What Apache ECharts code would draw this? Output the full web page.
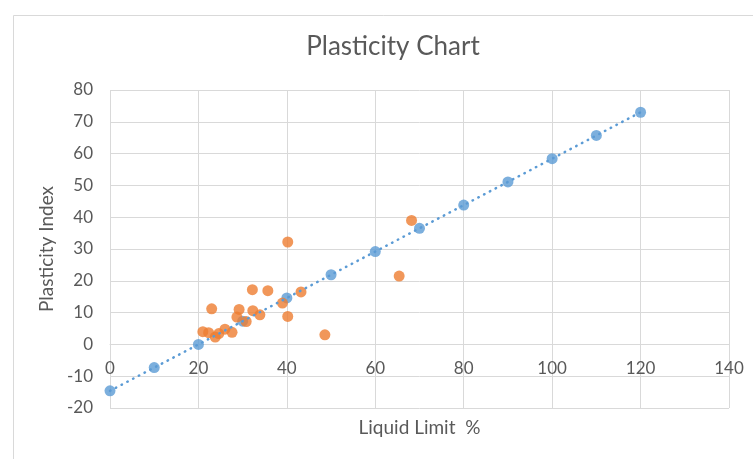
<!DOCTYPE html>
<html>
<head>
<meta charset="utf-8">
<script src="https://cdn.jsdelivr.net/npm/echarts@6/dist/echarts.min.js"></script>
<style>
html,body{margin:0;padding:0;background:#fff;}
#chart{width:753px;height:459px;}
</style>
</head>
<body>
<div id="chart"></div>
<script>
// A-line reference points (Liquid Limit, Plasticity Index)
const aLineLL = [0, 10, 20, 30, 40, 50, 60, 70, 80, 90, 100, 110, 120];
const aLinePI = [-14.6, -7.3, 0, 7.3, 14.6, 21.9, 29.2, 36.5, 43.8, 51.1, 58.4, 65.7, 73];
// Soil samples
const sampleLL = [21, 22.3, 23.8, 24.6, 26, 27.6, 23, 29.2, 32.3, 28.7, 33.9, 30.8, 32.2, 35.7, 39, 40.2, 40.2, 43.2, 48.6, 65.4, 68.2];
const samplePI = [4, 3.7, 2.3, 3.4, 4.8, 3.8, 11.2, 11, 10.6, 8.6, 9.3, 7.2, 17.2, 16.9, 13, 32.2, 8.8, 16.5, 3, 21.5, 39];
const xTicks = {min: 0, max: 140, interval: 20};
const yTicks = {min: -20, max: 80, interval: 10};
const titleText = 'Plasticity Chart';
const xName = 'Liquid Limit  %';
const yName = 'Plasticity Index';

const aLine = aLineLL.map((x, i) => [x, aLinePI[i]]);
const samples = sampleLL.map((x, i) => [x, samplePI[i]]);

const font = 'Lato, "Open Sans", sans-serif';
const chart = echarts.init(document.getElementById('chart'), null, {renderer: 'canvas'});
chart.setOption({
  backgroundColor: '#fff',
  animation: false,
  graphic: [{
    type: 'rect', left: 11, top: 13,
    shape: {width: 760, height: 480},
    style: {fill: 'none', stroke: '#d9d9d9', lineWidth: 1},
    z: -10
  }],
  title: {
    text: titleText, left: 388, top: 29, textAlign: 'center',
    textStyle: {fontFamily: font, fontSize: 26, fontWeight: 'normal', color: '#595959'}
  },
  grid: {left: 110, right: 24, top: 90, bottom: 51, containLabel: false, outerBoundsMode: 'none'},
  xAxis: {
    type: 'value', min: xTicks.min, max: xTicks.max, interval: xTicks.interval,
    axisLine: {onZero: true, lineStyle: {color: '#d9d9d9', width: 1}},
    axisTick: {show: false},
    axisLabel: {color: '#595959', fontFamily: font, fontSize: 17, margin: -48},
    splitLine: {show: true, lineStyle: {color: '#d9d9d9', width: 1}},
    name: xName, nameLocation: 'middle', nameGap: 10,
    nameTextStyle: {color: '#595959', fontFamily: font, fontSize: 19}
  },
  yAxis: {
    type: 'value', min: yTicks.min, max: yTicks.max, interval: yTicks.interval,
    axisLine: {show: false},
    axisTick: {show: false},
    axisLabel: {color: '#595959', fontFamily: font, fontSize: 17, margin: 17},
    splitLine: {show: true, lineStyle: {color: '#d9d9d9', width: 1}},
    name: yName, nameLocation: 'middle', nameGap: 50,
    nameTextStyle: {color: '#595959', fontFamily: font, fontSize: 19}
  },
  series: [
    {
      type: 'scatter', data: aLine, symbolSize: 11, z: 2,
      itemStyle: {color: '#5b9bd5'}
    },
    {
      type: 'scatter', data: samples, symbolSize: 11, z: 3,
      itemStyle: {color: '#ed7d31'}
    },
    {
      type: 'line', data: aLine, showSymbol: false, symbol: 'none', z: 4,
      lineStyle: {color: '#5b9bd5', width: 2.5, type: [0.5, 6], cap: 'round'},
      silent: true
    }
  ]
});
</script>
</body>
</html>
